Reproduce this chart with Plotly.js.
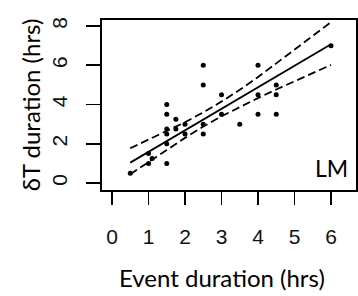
<!DOCTYPE html>
<html>
<head>
<meta charset="utf-8">
<script src="https://cdn.plot.ly/plotly-3.0.1.min.js"></script>
<style>html,body{margin:0;padding:0;background:#fff;}#chart{width:358px;height:296px;}</style>
</head>
<body>
<div id="chart"></div>
<script>
// Observed points
var eventDuration = [0.5, 1.0, 1.0, 1.1, 1.5, 1.5, 1.5, 1.5, 1.5, 1.5, 1.75, 1.75, 2.0, 2.0, 2.5, 2.5, 2.5, 2.5, 3.0, 3.0, 3.5, 4.0, 4.0, 4.0, 4.5, 4.5, 4.5, 6.0];
var dtDuration    = [0.5, 1.5, 1.0, 1.25, 4.0, 3.5, 2.75, 2.5, 2.0, 1.0, 3.25, 2.75, 3.0, 2.5, 6.0, 5.0, 3.0, 2.5, 4.5, 3.5, 3.0, 6.0, 4.5, 3.5, 5.0, 4.5, 3.5, 7.0];

// Fitted line and confidence band
var fitX     = [0.5, 1.0, 1.5, 2.0, 2.5, 3.0, 3.5, 4.0, 4.5, 5.0, 5.5, 6.0];
var fitY     = [1.04, 1.59, 2.13, 2.68, 3.23, 3.78, 4.33, 4.88, 5.42, 5.97, 6.52, 7.07];
var upperY   = [1.77, 2.20, 2.65, 3.10, 3.60, 4.15, 4.75, 5.40, 6.10, 6.80, 7.50, 8.20];
var lowerY   = [0.45, 1.05, 1.68, 2.30, 2.88, 3.40, 3.88, 4.33, 4.77, 5.20, 5.60, 6.02];

var xTicks = [0, 1, 2, 3, 4, 5, 6];
var yTicks = [0, 2, 4, 6, 8];

var xTitle = 'Event duration (hrs)';
var yTitle = 'δT duration (hrs)';
var panelLabel = 'LM';

var dashStyle = {color: '#000', width: 1.8, dash: '8px,4px'};

var traces = [
  {x: fitX, y: upperY, mode: 'lines', line: dashStyle, hoverinfo: 'skip'},
  {x: fitX, y: lowerY, mode: 'lines', line: dashStyle, hoverinfo: 'skip'},
  {x: fitX, y: fitY, mode: 'lines', line: {color: '#000', width: 1.8}, hoverinfo: 'skip'},
  {x: eventDuration, y: dtDuration, mode: 'markers', marker: {color: '#000', size: 5}}
];

var tickFont = {family: 'Liberation Sans, Arial, sans-serif', size: 21, color: '#111'};
var titleFont = {family: 'Lato, Carlito, sans-serif', size: 24, color: '#000'};

var layout = {
  width: 358, height: 296,
  margin: {l: 102, r: 2, t: 20, b: 106},
  paper_bgcolor: '#fff', plot_bgcolor: '#fff',
  showlegend: false,
  xaxis: {
    range: [-0.274, 6.685],
    tickvals: xTicks, ticktext: xTicks.map(String),
    ticks: 'outside', ticklen: 13, tickwidth: 1.8, tickcolor: '#000',
    showline: true, mirror: true, linecolor: '#000', linewidth: 1.8,
    showgrid: false, zeroline: false,
    tickfont: tickFont, ticklabelstandoff: 14
  },
  yaxis: {
    range: [-0.357, 8.31],
    tickvals: yTicks, ticktext: yTicks.map(String),
    ticks: 'outside', ticklen: 14, tickwidth: 1.8, tickcolor: '#000',
    tickangle: -90,
    showline: true, mirror: true, linecolor: '#000', linewidth: 1.8,
    showgrid: false, zeroline: false,
    tickfont: tickFont, ticklabelstandoff: 11,
    title: {text: yTitle, font: titleFont, standoff: 0}
  },
  annotations: [
    {x: 0.472, y: -0.512, xref: 'paper', yref: 'paper', text: xTitle, showarrow: false,
     xanchor: 'center', yanchor: 'middle', font: titleFont},
    {x: 6.0, y: 0.77, xref: 'x', yref: 'y', text: panelLabel, showarrow: false,
     xanchor: 'center', yanchor: 'middle', font: {family: 'Lato, Carlito, sans-serif', size: 23, color: '#000'}}
  ]
};

Plotly.newPlot('chart', traces, layout, {displayModeBar: false, staticPlot: true});
</script>
</body>
</html>
